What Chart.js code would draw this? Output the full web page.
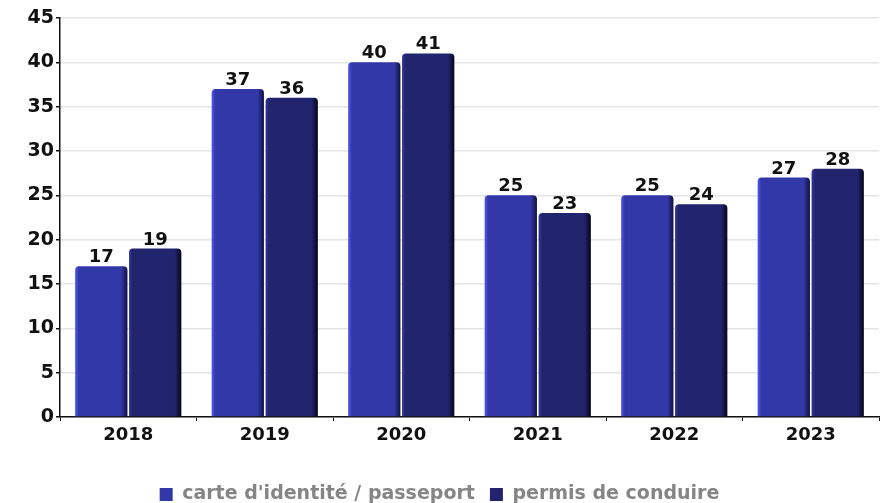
<!DOCTYPE html>
<html lang="fr">
<head>
  <meta charset="UTF-8">
  <title>Cartes d'identité / permis</title>
  <style>
    body { margin: 0; background: #fff; }
  </style>
  <script src="https://cdn.jsdelivr.net/npm/chart.js"></script>
</head>
<body>
  <canvas id="chart" width="888" height="503"></canvas>
  <script>
    const years = ['2018', '2019', '2020', '2021', '2022', '2023'];
    const carteIdentite = [17, 37, 40, 25, 25, 27];
    const permisConduire = [19, 36, 41, 23, 24, 28];
    const yTicks = [0, 5, 10, 15, 20, 25, 30, 35, 40, 45];

    // colour stops for the 3D-ish bar look: highlight, body, shadow
    const shades = [
      { light: '#4f58f4', body: '#3338a8', dark: '#0e1040' },
      { light: '#33369a', body: '#22246e', dark: '#04051a' }
    ];

    const FONT = 'DejaVu Sans';

    const barShading = {
      id: 'barShading',
      beforeDatasetDraw(chart, args) {
        const ctx = chart.ctx;
        const s = shades[args.index];
        args.meta.data.forEach(bar => {
          const left = bar.x - bar.width / 2;
          const right = bar.x + bar.width / 2;
          const g = ctx.createLinearGradient(left, 0, right, 0);
          g.addColorStop(0, s.light);
          g.addColorStop(0.07, s.body);
          g.addColorStop(0.88, s.body);
          g.addColorStop(1, s.dark);
          bar.options = Object.assign({}, bar.options, { backgroundColor: g });
        });
      }
    };

    const valueLabels = {
      id: 'valueLabels',
      afterDatasetsDraw(chart) {
        const ctx = chart.ctx;
        ctx.save();
        ctx.font = 'bold 18px ' + FONT;
        ctx.fillStyle = '#111';
        ctx.textAlign = 'center';
        ctx.textBaseline = 'alphabetic';
        chart.data.datasets.forEach((ds, i) => {
          chart.getDatasetMeta(i).data.forEach((bar, j) => {
            ctx.fillText(ds.data[j], bar.x, bar.y - 4);
          });
        });
        ctx.restore();
      }
    };

    new Chart(document.getElementById('chart'), {
      type: 'bar',
      data: {
        labels: years,
        datasets: [
          { label: "carte d'identité / passeport", data: carteIdentite, backgroundColor: shades[0].body },
          { label: 'permis de conduire', data: permisConduire, backgroundColor: shades[1].body }
        ]
      },
      options: {
        responsive: false,
        animation: false,
        devicePixelRatio: 1,
        categoryPercentage: 0.79,
        barPercentage: 0.97,
        borderRadius: 4,
        layout: { padding: { top: 18, right: 9, left: 0, bottom: 0 } },
        plugins: {
          tooltip: { enabled: false },
          legend: {
            position: 'bottom',
            maxHeight: 33,
            labels: {
              font: { family: FONT, size: 19, weight: 'bold' },
              color: '#858585',
              boxWidth: 13,
              boxHeight: 13,
              padding: 15
            }
          }
        },
        scales: {
          x: {
            afterFit(scale) { scale.height = 53; },
            grid: { display: true, drawOnChartArea: false, tickColor: '#111', tickLength: 4, offset: true },
            border: { color: '#111', width: 1.5 },
            ticks: { color: '#111', font: { family: FONT, size: 18, weight: 'bold' }, padding: 4, maxRotation: 0 }
          },
          y: {
            min: 0,
            max: 45,
            afterFit(scale) { scale.width = 60; },
            afterBuildTicks(scale) { scale.ticks = yTicks.map(v => ({ value: v })); },
            grid: { color: '#e4e4e4', tickColor: '#111', tickLength: 4, lineWidth: 1.5 },
            border: { color: '#111', width: 1.5 },
            ticks: { color: '#111', font: { family: FONT, size: 19, weight: 'bold' }, padding: 2 }
          }
        }
      },
      plugins: [barShading, valueLabels]
    });
  </script>
</body>
</html>
